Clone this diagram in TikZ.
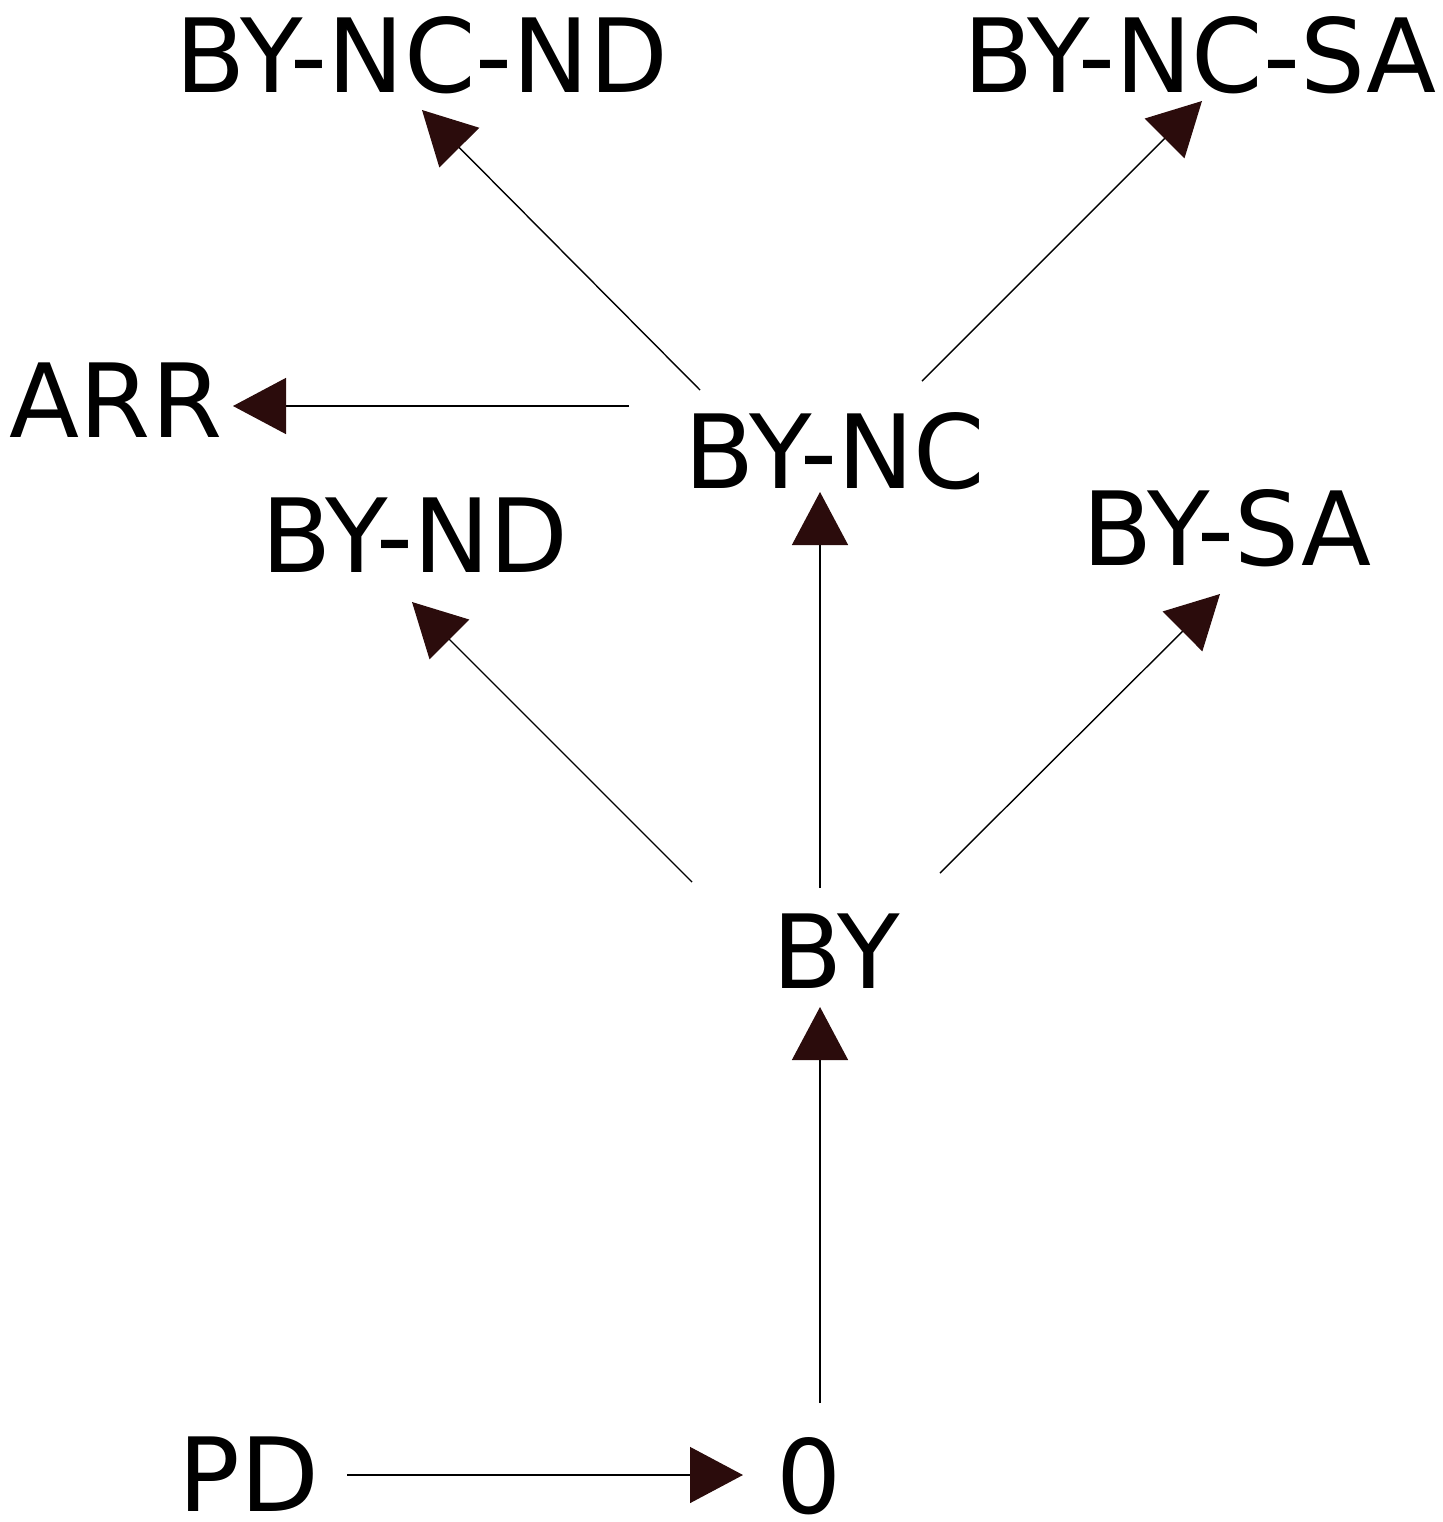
\documentclass[tikz,border=0pt]{standalone}
\usepackage{fontspec}
\setmainfont{DejaVu Sans}
\usetikzlibrary{arrows.meta}
\definecolor{tipc}{HTML}{2B0C0C}
\begin{document}
\begin{tikzpicture}[x=0.5pt,y=-0.5pt,
  lbl/.style={anchor=base,inner sep=0pt,font=\fontsize{51.2pt}{60pt}\selectfont},
  arr/.style={line width=0.7pt,-{Triangle[length=26.5pt,width=28pt,color=tipc,fill=tipc]}}]
\useasboundingbox (0,0) rectangle (1443,1522);
\node[lbl] (byncnd) at (422,92) {BY-NC-ND};
\node[lbl] (byncsa) at (1200,92) {BY-NC-SA};
\node[lbl] (arrn) at (116,437) {ARR};
\node[lbl] (bync) at (835,488) {BY-NC};
\node[lbl] (bynd) at (415,572) {BY-ND};
\node[lbl] (bysa) at (1227,565) {BY-SA};
\node[lbl] (by) at (836,988) {BY};
\node[lbl] (pd) at (249,1511) {PD};
\node[lbl] (zero) at (809,1513) {0};
% connector ends
\coordinate (a1s) at (700,390);  \coordinate (a1e) at (422,110);
\coordinate (a2s) at (922,381);  \coordinate (a2e) at (1202,101);
\coordinate (a3s) at (629,406);  \coordinate (a3e) at (233,406);
\coordinate (a4s) at (820,888);  \coordinate (a4e) at (820,492);
\coordinate (a5s) at (692,882);  \coordinate (a5e) at (412,602);
\coordinate (a6s) at (940,873);  \coordinate (a6e) at (1220,594);
\coordinate (a7s) at (820,1403); \coordinate (a7e) at (820,1007);
\coordinate (a8s) at (347,1475); \coordinate (a8e) at (743,1475);
\draw[arr] (a1s) -- (a1e);
\draw[arr] (a2s) -- (a2e);
\draw[arr] (a3s) -- (a3e);
\draw[arr] (a4s) -- (a4e);
\draw[arr] (a5s) -- (a5e);
\draw[arr] (a6s) -- (a6e);
\draw[arr] (a7s) -- (a7e);
\draw[arr] (a8s) -- (a8e);
\end{tikzpicture}
\end{document}
